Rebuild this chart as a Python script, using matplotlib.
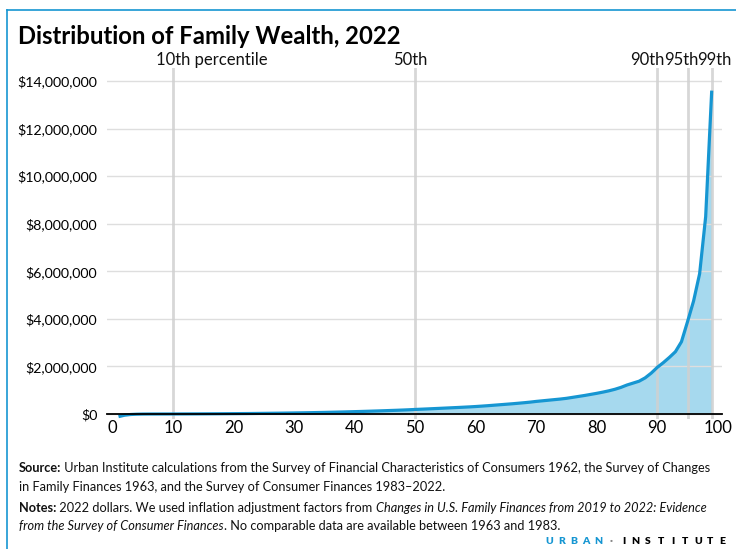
import matplotlib
matplotlib.use("Agg")
import matplotlib.pyplot as plt
from matplotlib.lines import Line2D
from matplotlib.ticker import FuncFormatter
import numpy as np

plt.rcParams["font.family"] = ["Lato", "DejaVu Sans"]

BLUE = "#1696d2"
FILL = "#a6d9ee"
GRID = "#dedede"
VLINE = "#d0d0d0"

# wealth by percentile, thousands of 2022 dollars
percentiles = list(range(1, 100))
wealth_k = [
    -110, -50, -20, -8, -2, 0, 0.5, 1, 1.5, 2,
    3, 4, 5, 6, 7.5, 9, 10.5, 12, 14, 16,
    18, 20, 22, 25, 28, 31, 34, 37, 41, 45,
    49, 53, 58, 63, 68, 74, 80, 86, 93, 100,
    107, 115, 123, 131, 140, 149, 158, 168, 179, 192,
    203, 214, 226, 238, 250, 262, 274, 287, 300, 315,
    332, 350, 370, 390, 410, 430, 452, 475, 500, 530,
    555, 580, 605, 630, 660, 700, 740, 780, 825, 870,
    920, 975, 1040, 1120, 1220, 1300, 1380, 1520, 1720, 1960,
    2160, 2380, 2620, 3040, 3880, 4750, 5900, 8300, 13600,
]
marker_pcts = [10, 50, 90, 95, 99]
marker_labels = ["10th percentile", "50th", "90th", "95th", "99th"]
label_x = [16.4, 49.2, 88.3, 94.0, 99.4]
yticks = [0, 2e6, 4e6, 6e6, 8e6, 10e6, 12e6, 14e6]

x = np.array(percentiles)
y = np.array(wealth_k) * 1000

fig = plt.figure(figsize=(7.36, 5.49), dpi=100)
ax = fig.add_axes([0.1454, 0.2372, 0.981 - 0.1454, 0.8761 - 0.2372])

ax.fill_between(x, y, 0, color=FILL, lw=0, zorder=1)
ax.plot(x, y, color=BLUE, lw=2.3, zorder=4, solid_capstyle="butt")
for p in marker_pcts:
    ax.axvline(p, color=VLINE, lw=2, alpha=0.85, zorder=3)
for lx, lab in zip(label_x, marker_labels):
    ax.text(lx, 1.0, lab, transform=ax.get_xaxis_transform(), ha="center",
            va="bottom", fontsize=12, color="#111111")

ax.set_xlim(-0.9, 100.7)
ax.set_ylim(-0.2e6, 14.55e6)
ax.set_yticks(yticks)
ax.set_xticks(range(0, 101, 10))
ax.yaxis.set_major_formatter(FuncFormatter(lambda v, _: f"${v:,.0f}"))
ax.grid(axis="y", color=GRID, lw=1, zorder=2)
ax.set_axisbelow(False)
for s in ["top", "right", "left"]:
    ax.spines[s].set_visible(False)
ax.spines["bottom"].set_position(("data", 0))
ax.spines["bottom"].set_color("black")
ax.spines["bottom"].set_linewidth(1.3)
ax.spines["bottom"].set_zorder(5)
ax.tick_params(axis="x", length=0, pad=4, labelsize=12)
ax.tick_params(axis="y", length=0, pad=7, labelsize=10.2)

fig.text(18 / 736, 1 - 36 / 549, "Distribution of Family Wealth, 2022",
         fontsize=17.2, fontweight="bold", va="center", ha="left")

# footnotes with mixed styles
fig.canvas.draw()
renderer = fig.canvas.get_renderer()
notes = [
    [("Source:", "bold", "normal"),
     (" Urban Institute calculations from the Survey of Financial Characteristics of Consumers 1962, the Survey of Changes", "normal", "normal")],
    [("in Family Finances 1963, and the Survey of Consumer Finances 1983\u20132022.", "normal", "normal")],
    [("Notes:", "bold", "normal"),
     (" 2022 dollars. We used inflation adjustment factors from ", "normal", "normal"),
     ("Changes in U.S. Family Finances from 2019 to 2022: Evidence", "normal", "italic")],
    [("from the Survey of Consumer Finances", "normal", "italic"),
     (". No comparable data are available between 1963 and 1983.", "normal", "normal")],
]
line_y = [468, 487, 508, 526]
for parts, py in zip(notes, line_y):
    px = 19
    for txt, weight, style in parts:
        t = fig.text(px / 736, 1 - py / 549, txt, fontsize=9.2, fontweight=weight,
                     fontstyle=style, va="center", ha="left", color="#111111")
        bb = t.get_window_extent(renderer)
        px += bb.width

# logo, letter-spaced
logo = [("U", BLUE), ("R", BLUE), ("B", BLUE), ("A", BLUE), ("N", BLUE),
        ("\u00b7", "#888888"),
        ("I", "black"), ("N", "black"), ("S", "black"), ("T", "black"), ("I", "black"),
        ("T", "black"), ("U", "black"), ("T", "black"), ("E", "black")]
lx = 549
for ch, col in logo:
    fig.text(lx / 736, 1 - 541 / 549, ch, fontsize=7.5, fontweight="heavy",
             color=col, va="center", ha="center")
    lx += 12.4

# frame lines
fig.add_artist(Line2D([7 / 736, 1], [1 - 9.5 / 549, 1 - 9.5 / 549], color=BLUE, lw=1.2))
fig.add_artist(Line2D([7 / 736, 7 / 736], [0, 1 - 9.5 / 549], color=BLUE, lw=1.2))

fig.savefig("out.png", dpi=100)
